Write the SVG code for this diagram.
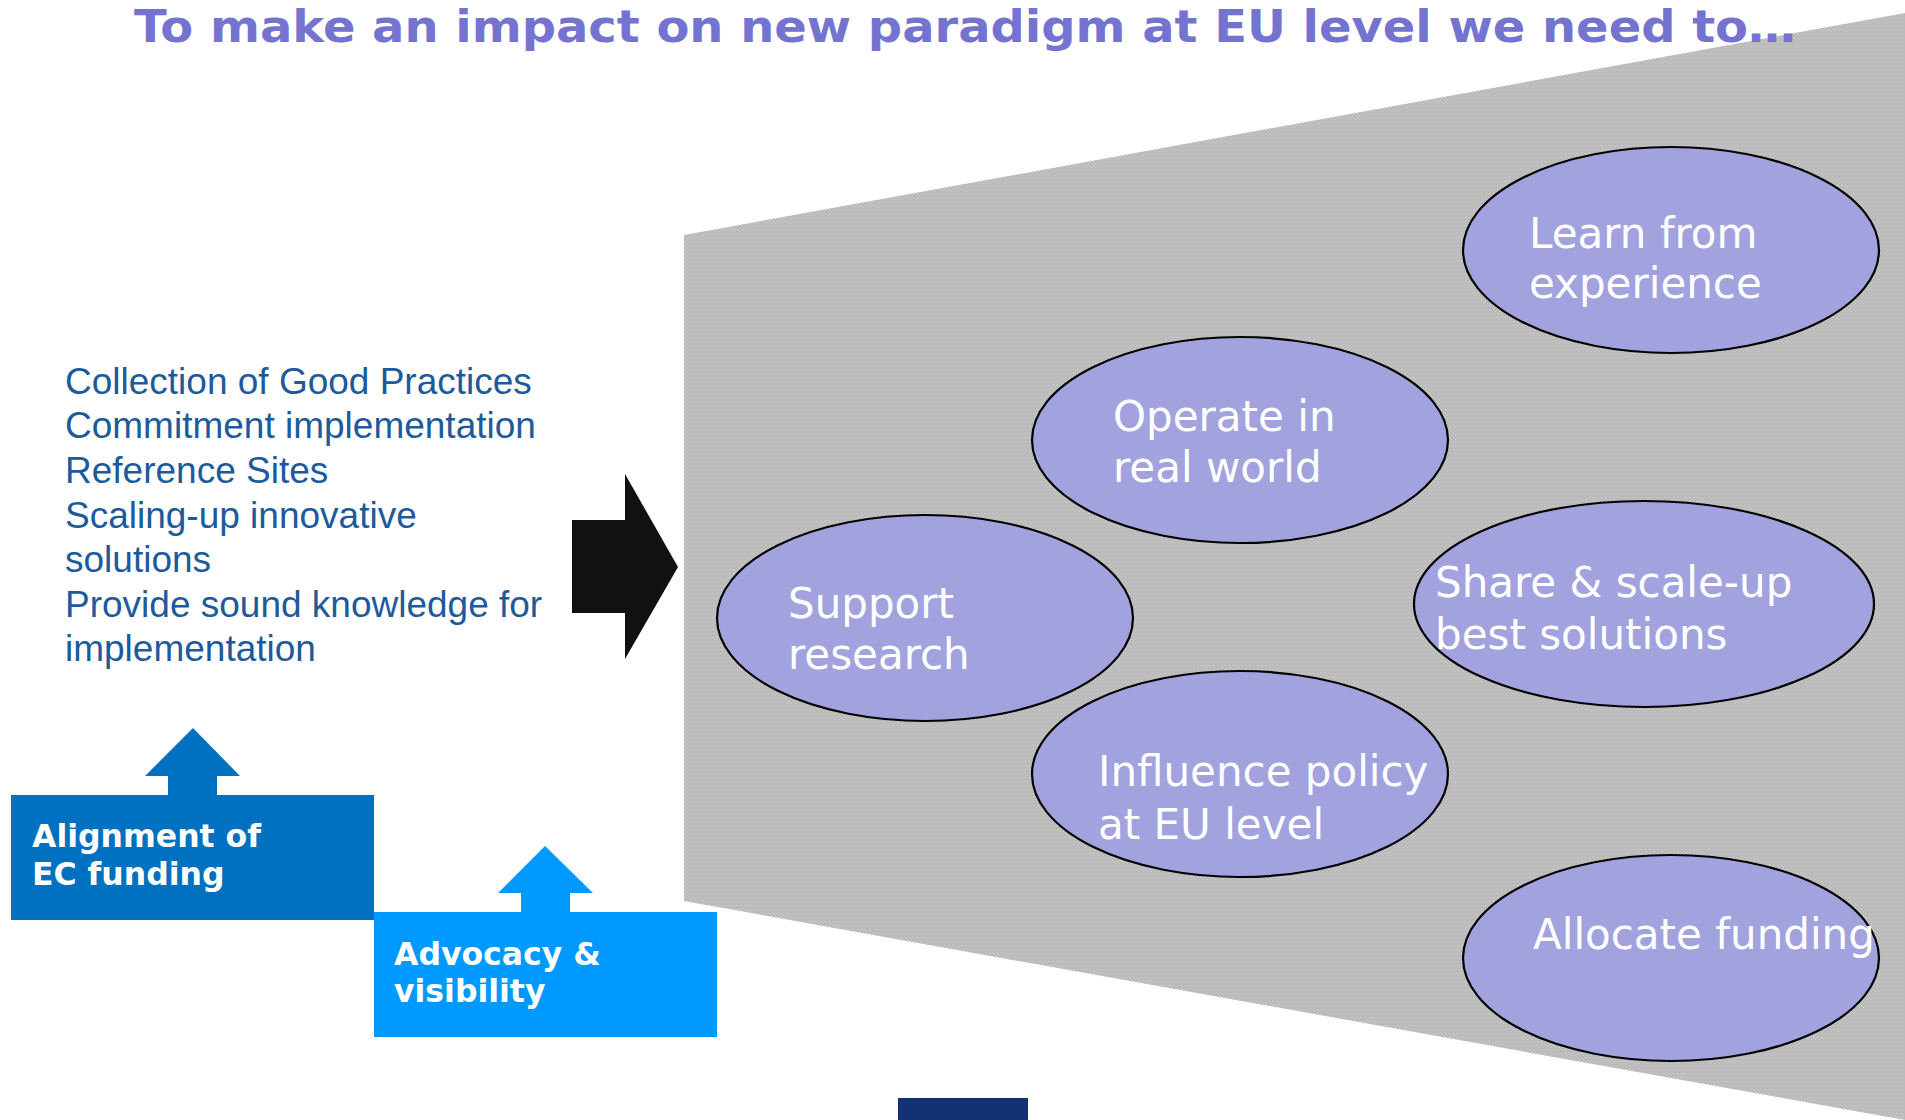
<svg xmlns="http://www.w3.org/2000/svg" width="1905" height="1120" viewBox="0 0 1905 1120">
<style>
.title{font-family:"DejaVu Sans",Verdana,sans-serif;font-weight:bold;font-size:45px;fill:#7474d0}
.list{font-family:"Liberation Sans",Arial,sans-serif;font-size:37px;fill:#1d5a9c}
.oval{fill:#a2a2de;stroke:#000;stroke-width:2.2}
.otext{font-family:"DejaVu Sans",Verdana,sans-serif;font-size:42px;fill:#fff}
.btext{font-family:"DejaVu Sans",Verdana,sans-serif;font-weight:bold;font-size:31.5px;fill:#fff}
</style>
<defs>
<pattern id="dots" width="4" height="4" patternUnits="userSpaceOnUse">
<rect width="4" height="4" fill="#bababa"/>
<rect x="1" y="1" width="1" height="1" fill="#dedede"/>
<rect x="3" y="3" width="1" height="1" fill="#cdcdcd"/>
</pattern>
</defs>
<rect width="1905" height="1120" fill="#fff"/>
<g id="funnel">
<polygon points="684,235 1905,13 1905,1120 684,901" fill="url(#dots)"/>
</g>
<g id="title">
<text class="title" x="134" y="42" textLength="1662" lengthAdjust="spacingAndGlyphs">To make an impact on new paradigm at EU level we need to…</text>
</g>
<g id="list">
<text class="list" x="65" y="394">Collection of Good Practices</text>
<text class="list" x="65" y="438">Commitment implementation</text>
<text class="list" x="65" y="483">Reference Sites</text>
<text class="list" x="65" y="528">Scaling-up innovative</text>
<text class="list" x="65" y="572">solutions</text>
<text class="list" x="65" y="617">Provide sound knowledge for</text>
<text class="list" x="65" y="661">implementation</text>
</g>
<g id="connectors">
<polygon id="big-arrow" points="572,520 625,520 625,474 678,567 625,659 625,613 572,613" fill="#111"/>
</g>
<g id="alignment">
<polygon points="168,796 168,776 145,776 193,728 240,776 217,776 217,796" fill="#0070c0"/>
<rect x="11" y="795" width="363" height="125" fill="#0070c0"/>
<text class="btext" x="32" y="847">Alignment of</text>
<text class="btext" x="32" y="885">EC funding</text>
</g>
<g id="advocacy">
<polygon points="521,913 521,893 498,893 545,846 593,893 570,893 570,913" fill="#0099ff"/>
<rect x="374" y="912" width="343" height="125" fill="#0099ff"/>
<text class="btext" x="394" y="965">Advocacy &amp;</text>
<text class="btext" x="394" y="1002">visibility</text>
</g>
<g id="learn">
<ellipse class="oval" cx="1671" cy="250" rx="208" ry="103"/>
<text class="otext" x="1529" y="248">Learn from</text>
<text class="otext" x="1529" y="298">experience</text>
</g>
<g id="operate">
<ellipse class="oval" cx="1240" cy="440" rx="208" ry="103"/>
<text class="otext" x="1113" y="431">Operate in</text>
<text class="otext" x="1113" y="482">real world</text>
</g>
<g id="support">
<ellipse class="oval" cx="925" cy="618" rx="208" ry="103"/>
<text class="otext" x="788" y="618">Support</text>
<text class="otext" x="788" y="669">research</text>
</g>
<g id="share">
<ellipse class="oval" cx="1644" cy="604" rx="230" ry="103"/>
<text class="otext" x="1435" y="597">Share &amp; scale-up</text>
<text class="otext" x="1435" y="649">best solutions</text>
</g>
<g id="influence">
<ellipse class="oval" cx="1240" cy="774" rx="208" ry="103"/>
<text class="otext" x="1098" y="786">Influence policy</text>
<text class="otext" x="1098" y="839">at EU level</text>
</g>
<g id="allocate">
<ellipse class="oval" cx="1671" cy="958" rx="208" ry="103"/>
<text class="otext" x="1533" y="949">Allocate funding</text>
</g>
<rect id="footer-bar" x="898" y="1098" width="130" height="22" fill="#133276"/>
</svg>
